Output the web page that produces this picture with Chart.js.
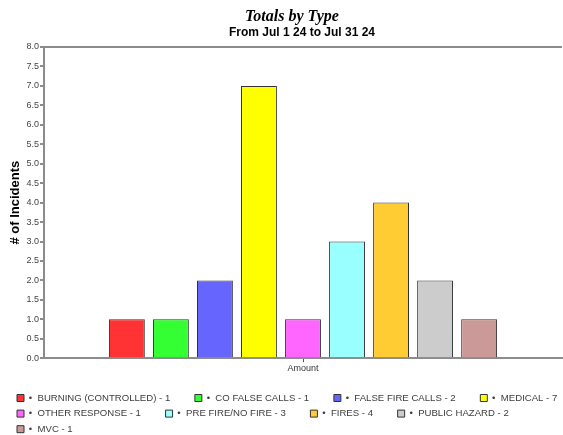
<!DOCTYPE html>
<html>
<head>
<meta charset="utf-8">
<script src="https://cdn.jsdelivr.net/npm/chart.js@4.4.1/dist/chart.umd.min.js"></script>
<style>
  html, body { margin: 0; padding: 0; background: #fff; }
  #wrap { width: 563px; height: 435px; overflow: hidden; position: relative; }
  #chart { display: block; }
</style>
</head>
<body>
<div id="wrap"><canvas id="chart" width="600" height="444"></canvas></div>
<script>
// incident totals per type for the month
const typeNames = ['BURNING (CONTROLLED)', 'CO FALSE CALLS', 'FALSE FIRE CALLS', 'MEDICAL',
    'OTHER RESPONSE', 'PRE FIRE/NO FIRE', 'FIRES', 'PUBLIC HAZARD', 'MVC'];
const typeCounts = [1, 1, 2, 7, 1, 3, 4, 2, 1];
const categoryLabels = ['Amount'];
const yMin = 0;
const yMax = 8;
const yStep = 0.5;

const barColors = ['#ff3333', '#33ff33', '#6666ff', '#ffff00', '#ff66ff',
    '#99ffff', '#ffcc33', '#cccccc', '#cc9999'];
const axisGray = '#8c8c8c';
const textGray = '#3c3c3c';

const datasets = typeNames.map((name, i) => ({
    label: name + ' - ' + typeCounts[i],
    data: [typeCounts[i]],
    backgroundColor: barColors[i],
    borderColor: '#333',
    borderWidth: 1,
    categoryPercentage: 0.765,
    barPercentage: 0.815
}));

// title and subtitle sit a little off the plot centre
const headerPlugin = {
    id: 'header',
    afterDraw(chart) {
        const ctx = chart.ctx;
        ctx.save();
        ctx.fillStyle = '#000';
        ctx.textAlign = 'center';
        ctx.textBaseline = 'middle';
        ctx.font = 'bold italic 16px "Liberation Serif", "Times New Roman", serif';
        ctx.fillText('Totals by Type', 292, 17);
        ctx.font = 'bold 12px "Liberation Sans", Arial, sans-serif';
        ctx.fillText('From Jul 1 24 to Jul 31 24', 302, 33);
        ctx.restore();
    }
};

const ctx = document.getElementById('chart').getContext('2d');
new Chart(ctx, {
    type: 'bar',
    data: { labels: categoryLabels, datasets },
    options: {
        responsive: false,
        devicePixelRatio: 1,
        animation: false,
        layout: { padding: { top: 47, left: 11, right: 0, bottom: 0 } },
        font: { family: '"Liberation Sans", Arial, sans-serif' },
        scales: {
            x: {
                grid: { offset: false, drawOnChartArea: false, tickLength: 4, tickColor: '#555' },
                border: { color: axisGray, width: 2 },
                ticks: { color: '#333', font: { size: 9 }, padding: 1 },
                afterFit(scale) { scale.height = 29; }
            },
            y: {
                min: yMin,
                max: yMax,
                grid: {
                    color: c => (c.tick && c.tick.value === yMax ? axisGray : 'rgba(0,0,0,0)'),
                    lineWidth: 2,
                    tickColor: axisGray,
                    tickLength: 4
                },
                border: { color: axisGray, width: 2 },
                ticks: {
                    stepSize: yStep,
                    color: '#444',
                    font: { size: 9 },
                    padding: 1,
                    callback: v => v.toFixed(1)
                },
                title: {
                    display: true,
                    text: '# of Incidents',
                    color: '#000',
                    font: { size: 13, weight: 'bold' },
                    padding: { top: -3, bottom: 0 }
                },
                afterFit(scale) { scale.width = 33; }
            },
            // empty right-hand axis keeps the plot clear of the wider legend strip
            spacer: {
                type: 'linear',
                position: 'right',
                grid: { display: false },
                ticks: { display: false },
                border: { display: false },
                afterFit(scale) { scale.width = 38; }
            }
        },
        plugins: {
            title: { display: false },
            tooltip: { enabled: false },
            legend: {
                position: 'bottom',
                align: 'start',
                labels: {
                    boxWidth: 7,
                    boxHeight: 7,
                    padding: 6,
                    color: textGray,
                    font: { size: 9.6 },
                    generateLabels(chart) {
                        const items = Chart.defaults.plugins.legend.labels.generateLabels(chart);
                        return items.map(it => Object.assign(it, { text: '•  ' + it.text + '       ' }));
                    }
                }
            }
        }
    },
    plugins: [headerPlugin]
});
</script>
</body>
</html>
